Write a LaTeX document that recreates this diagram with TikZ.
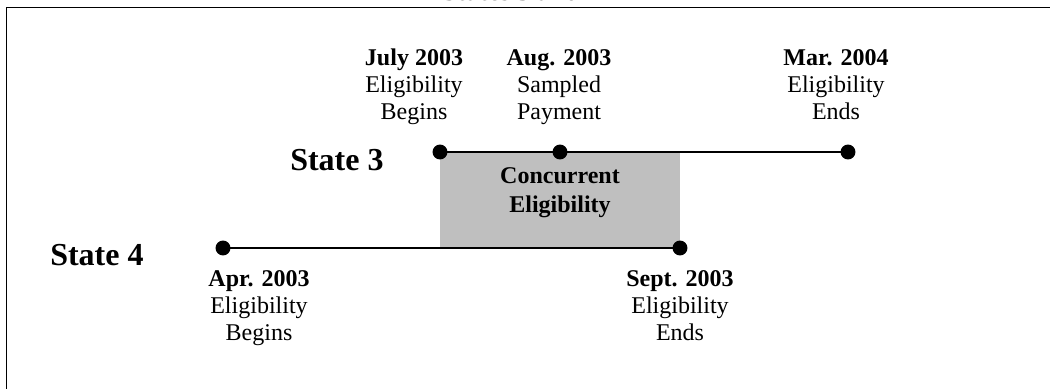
\documentclass[tikz,border=0pt]{standalone}
\usepackage{fontspec}
\setmainfont{Liberation Serif}
\begin{document}
\begin{tikzpicture}[x=0.75pt,y=-0.75pt,
  dot/.style={circle,fill=black,inner sep=0pt,minimum size=11.2pt},
  tline/.style={line width=1.5pt},
  lbl/.style={align=center,inner sep=0pt,font=\fontsize{18}{20.25}\selectfont,anchor=base},
  statelbl/.style={inner sep=0pt,font=\fontsize{24}{28}\selectfont\bfseries,anchor=base west},
  frame/.style={line width=1.4pt}]
\useasboundingbox (0,0) rectangle (1050,389);
\clip (0,0) rectangle (1050,389);
% title (clipped at top)
\node[inner sep=0pt,font=\fontsize{20}{24}\selectfont\bfseries,anchor=base] (title) at (521,1) {States 3 and 4};
% frame
\draw[frame] (6.5,400) -- (6.5,7.5) -- (1060,7.5);
% concurrent eligibility box
\fill[gray!50] (440,152) rectangle (680,248);
\node[align=center,inner sep=0pt,font=\fontsize{18}{21.5}\selectfont\bfseries,anchor=base] (conc) at (560,212) {Concurrent\\Eligibility};
% dots
\node[dot] (s3a) at (440,152) {};
\node[dot] (s3b) at (560,152) {};
\node[dot] (s3c) at (848,152) {};
\node[dot] (s4a) at (223,248) {};
\node[dot] (s4b) at (680,248) {};
% lines
\draw[tline] (s3a.center) -- (s3b.center) -- (s3c.center);
\draw[tline] (s4a.center) -- (s4b.center);
% state labels
\node[statelbl] (st3) at (290,170) {State 3};
\node[statelbl] (st4) at (50,265) {State 4};
% date labels
\node[lbl] (l1) at (414,119) {\textbf{July 2003}\\Eligibility\\Begins};
\node[lbl] (l2) at (559,119) {\textbf{Aug. 2003}\\Sampled\\Payment};
\node[lbl] (l3) at (836,119) {\textbf{Mar. 2004}\\Eligibility\\Ends};
\node[lbl] (l4) at (259,340) {\textbf{Apr. 2003}\\Eligibility\\Begins};
\node[lbl] (l5) at (680,340) {\textbf{Sept. 2003}\\Eligibility\\Ends};
\end{tikzpicture}
\end{document}
